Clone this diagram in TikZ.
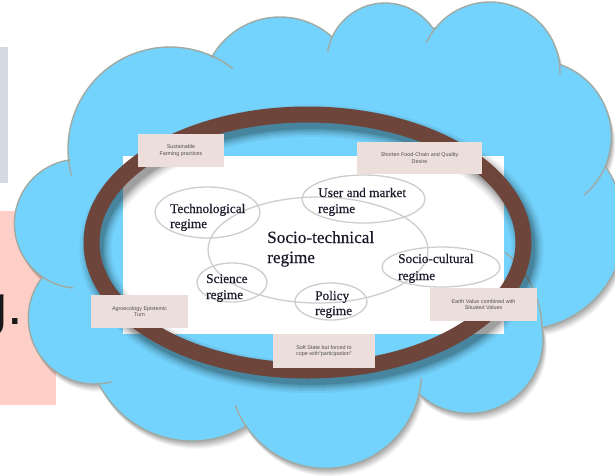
\documentclass[tikz,border=0pt]{standalone}
\usepackage{fontspec}
\setmainfont{Liberation Serif}
\newfontfamily\arialf{Liberation Sans}
\newfontfamily\diagfont[FakeBold=0.35]{Liberation Serif}
\definecolor{cloudblue}{RGB}{116,211,253}
\definecolor{cloudline}{RGB}{160,170,163}
\definecolor{ringbrown}{RGB}{109,69,59}
\definecolor{cardpink}{RGB}{236,222,218}
\definecolor{cardtext}{RGB}{80,80,80}
\definecolor{leftgray}{RGB}{213,218,226}
\definecolor{leftpink}{RGB}{253,207,198}
\definecolor{diagtext}{RGB}{25,25,42}
\definecolor{ellline}{RGB}{205,205,205}
\definecolor{bigtext}{RGB}{25,25,25}
\newcommand\cloudshape{
 plot[domain=173.7:294.8] ({170+102*cos(\x)},{149+102*sin(\x)})
 -- plot[domain=208.6:311.9] ({280+78*cos(\x)},{95+78*sin(\x)})
 -- plot[domain=204.4:324.7] ({385+58*cos(\x)},{61+58*sin(\x)})
 -- plot[domain=218.3:353.8] ({490+70*cos(\x)},{72+70*sin(\x)})
 -- plot[domain=288.8:383.5] ({535+76.3*cos(\x)},{136.6+76.3*sin(\x)})
 -- plot[domain=-35.6:78.5] ({521.6+103*cos(\x)},{226.6+103*sin(\x)})
 -- plot[domain=-9.6:133] ({469+74*cos(\x)},{339.4+74*sin(\x)})
 -- plot[domain=12.7:145.2] ({325.5+96*cos(\x)},{372.4+96*sin(\x)})
 -- plot[domain=58.9:153.2] ({192.2+105*cos(\x)},{336+105*sin(\x)})
 -- plot[domain=87.7:218.6] ({94.3+66*cos(\x)},{318+66*sin(\x)})
 -- plot[domain=124:262] ({78.9+64.5*cos(\x)},{223.7+64.5*sin(\x)})
 -- cycle}
\begin{document}
\begin{tikzpicture}[x=1pt,y=-1pt,
  samples=40,
  cardbox/.style={fill=cardpink, inner sep=0, align=center,
    font=\arialf\fontsize{5.4}{6.3}\selectfont, text=cardtext},
  dtext/.style={anchor=base west, inner sep=0, text=diagtext,
    font=\diagfont\fontsize{13.3}{15}\selectfont},
  bigdtext/.style={anchor=base west, inner sep=0, text=diagtext,
    font=\diagfont\fontsize{17.2}{20}\selectfont},
  elline/.style={draw=ellline, line width=1.3pt},
  tickline/.style={draw=cloudline, line width=1.4pt},
]
\useasboundingbox (0,0) rectangle (615,475);
\clip (0,0) rectangle (615,475);
\fill[white] (0,0) rectangle (615,475);
% left slide remnants
\fill[leftgray] (0,47) rectangle (8,183);
\fill[leftpink] (0,211) rectangle (56,405);
\node[anchor=base east, inner sep=0, text=bigtext,
  font=\arialf\fontsize{56}{60}\selectfont] (gtext) at (23,324) {g.};
% cloud shadow
\foreach \s/\o in {1/0.05,2/0.05,3/0.05,4/0.05,5/0.05,6/0.04,7/0.04,8/0.03}
  \fill[black, opacity=\o, shift={(\s*0.5,\s)}] \cloudshape;
% cloud
\fill[cloudblue] \cloudshape;
\draw[cloudline, line width=1.4pt, line join=round] \cloudshape;
% inner ticks (continuations of the bump arcs)
\draw[tickline] plot[domain=173.7:165] ({170+102*cos(\x)},{149+102*sin(\x)});
\draw[tickline] plot[domain=294.8:308] ({170+102*cos(\x)},{149+102*sin(\x)});
\draw[tickline] plot[domain=204.4:189] ({385+58*cos(\x)},{61+58*sin(\x)});
\draw[tickline] plot[domain=218.3:205] ({490+70*cos(\x)},{72+70*sin(\x)});
\draw[tickline] plot[domain=353.8:362] ({490+70*cos(\x)},{72+70*sin(\x)});
\draw[tickline] plot[domain=23.5:50] ({535+76.3*cos(\x)},{136.6+76.3*sin(\x)});
\draw[tickline] plot[domain=-1.7:-51] ({442+100*cos(\x)},{330+100*sin(\x)});
\draw[tickline] plot[domain=12.7:3] ({325.5+96*cos(\x)},{372.4+96*sin(\x)});
\draw[tickline] plot[domain=145.2:160] ({325.5+96*cos(\x)},{372.4+96*sin(\x)});
\draw[tickline] plot[domain=87.7:75] ({94.3+66*cos(\x)},{318+66*sin(\x)});
\draw[tickline] plot[domain=124:95] ({78.9+64.5*cos(\x)},{223.7+64.5*sin(\x)});
% white picture
\fill[white] (123,156) rectangle (504,334);
% ring shadow
\foreach \w/\o in {32/0.05,28/0.06,24/0.08,20/0.11,16/0.14}
  \draw[black, opacity=\o, line width=\w pt] (311.5,249) ellipse[x radius=216pt, y radius=128pt];
% ring
\draw[ringbrown, line width=16pt] (307.5,242.5) ellipse[x radius=216pt, y radius=128pt];
% diagram ellipses
\draw[elline] (318,250) ellipse[x radius=110pt, y radius=53pt];
\draw[elline] (207.5,212.5) ellipse[x radius=52.5pt, y radius=25.5pt];
\draw[elline] (363.5,199) ellipse[x radius=61.5pt, y radius=24pt];
\draw[elline] (441,267) ellipse[x radius=59pt, y radius=20pt];
\draw[elline] (232,282.5) ellipse[x radius=35pt, y radius=19.5pt];
\draw[elline] (331,301.5) ellipse[x radius=36pt, y radius=18.5pt];
% diagram texts
\node[dtext] (techA) at (170,213) {Technological};
\node[dtext] (techB) at (170,228) {regime};
\node[dtext] (userA) at (318,197) {User and market};
\node[dtext] (userB) at (318,213) {regime};
\node[bigdtext] (stA) at (267,243) {Socio-technical};
\node[bigdtext] (stB) at (267,263) {regime};
\node[dtext] (scA) at (398,263) {Socio-cultural};
\node[dtext] (scB) at (398,280) {regime};
\node[dtext] (sciA) at (206,283) {Science};
\node[dtext] (sciB) at (206,299) {regime};
\node[dtext] (polA) at (315,300) {Policy};
\node[dtext] (polB) at (315,315) {regime};
% cards
\node[cardbox, minimum width=86pt, minimum height=33pt] (card1) at (181,150.5) {Sustainable\\Farming practices};
\node[cardbox, minimum width=125pt, minimum height=32pt] (card2) at (419.5,158) {Shorten Food-Chain and Quality\\Desire};
\node[cardbox, minimum width=97pt, minimum height=33pt] (card3) at (139.5,311.5) {Agroecology Epistemic\\Turn};
\node[cardbox, minimum width=107pt, minimum height=33pt] (card4) at (483.5,304.5) {Earth Value combined with\\Situated Values};
\node[cardbox, minimum width=102pt, minimum height=34pt] (card5) at (324,351) {Soft State but forced to\\cope with“participation”};
\end{tikzpicture}
\end{document}
